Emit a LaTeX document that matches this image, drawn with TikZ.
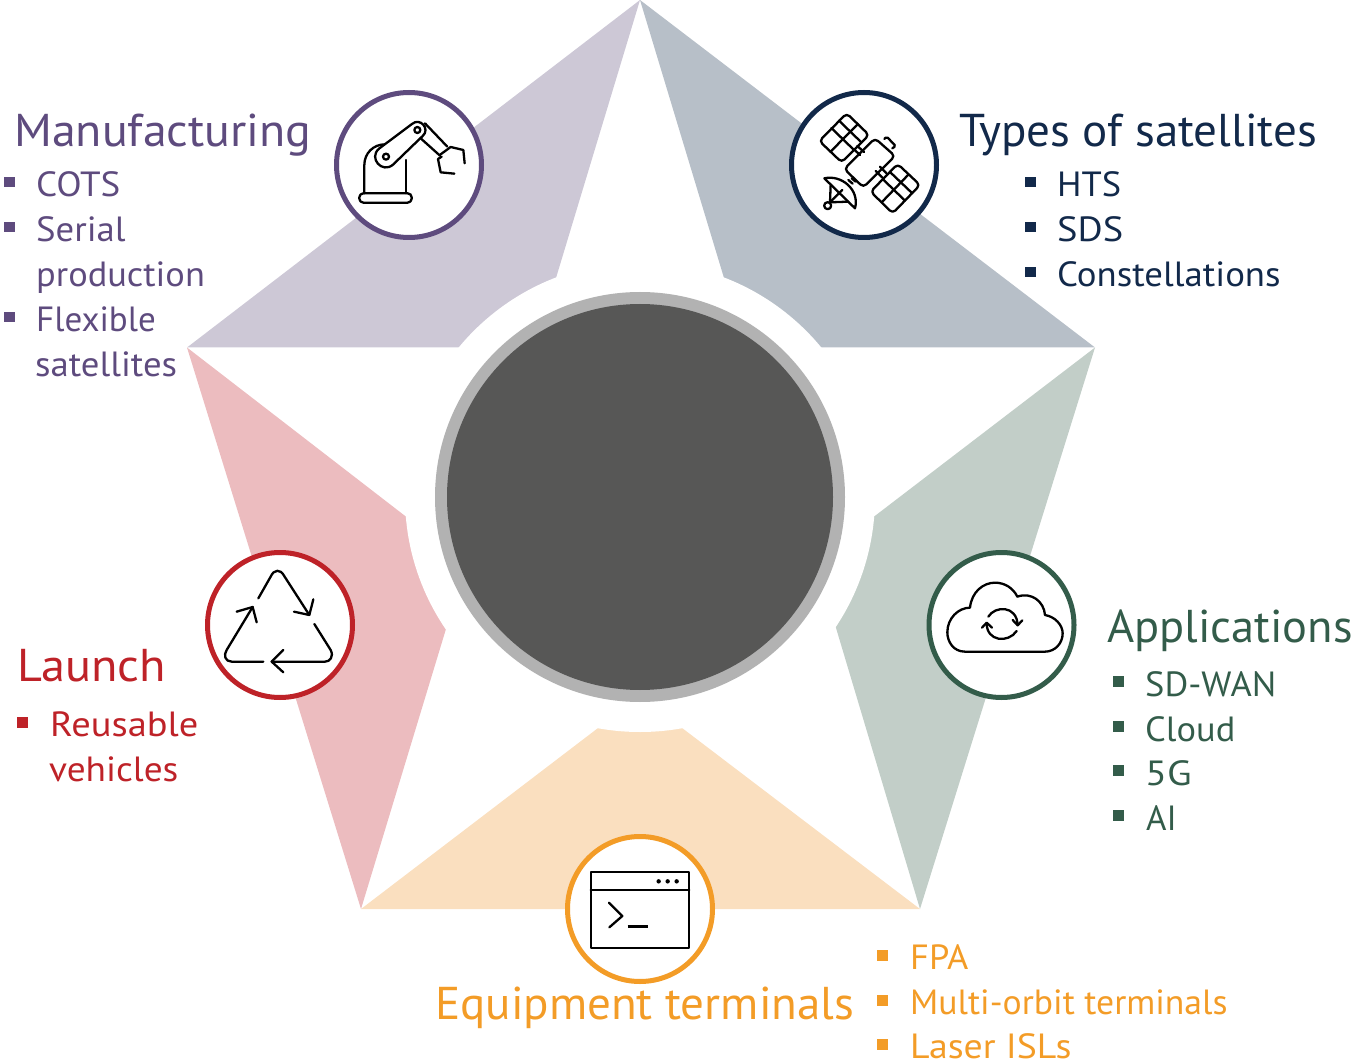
\documentclass[tikz,border=0pt]{standalone}
\usepackage{fontspec}
\setmainfont{PT Sans}
\definecolor{cpur}{HTML}{5E4B7E}\definecolor{lpur}{HTML}{CDC8D6}
\definecolor{cnav}{HTML}{12294A}\definecolor{lnav}{HTML}{B7BFC8}
\definecolor{cgrn}{HTML}{335C4A}\definecolor{lgrn}{HTML}{C2CEC8}
\definecolor{cora}{HTML}{F39C27}\definecolor{lora}{HTML}{FADFBF}
\definecolor{cred}{HTML}{BE2228}\definecolor{lred}{HTML}{ECBCBF}
\tikzset{
 ttl/.style={anchor=base west,inner sep=0pt,font=\fontsize{46}{50}\selectfont},
 itm/.style={anchor=base west,inner sep=0pt,font=\fontsize{35}{40}\selectfont},
 ring/.style={circle,draw=#1,line width=5pt,fill=white,minimum size=145pt,inner sep=0pt},
 ico/.style={line width=2.3pt,line cap=round,line join=round,black},
 zoomgrid/.style={x=0.33333pt,y=-0.33333pt},
}
\newcommand{\bul}[3]{\fill[#3] (#1,#2) rectangle ++(10.5,10.5);}
\newcommand{\sx}[2]{\scalebox{#1}[1]{#2}}
\begin{document}
\begin{tikzpicture}[x=1pt,y=-1pt]
\useasboundingbox (0,0) rectangle (1355,1064);
% star arms
\fill[lpur] (640,0) -- (187,347.5) -- (535,347.5) -- cycle;
\fill[lnav] (640,0) -- (1095,347.5) -- (745,347.5) -- cycle;
\fill[lgrn] (1095,347.5) -- (920,909) -- (816,561) -- cycle;
\fill[lora] (920,909) -- (361,909) -- (640,696) -- cycle;
\fill[lred] (361,909) -- (187,347.5) -- (466,563) -- cycle;
\node[circle,fill=white,minimum size=470pt,inner sep=0pt] (gap) at (640,497) {};
\node[circle,minimum size=410pt,inner sep=0pt,fill={rgb,255:red,178;green,178;blue,178}] (outer) at (640,497) {};
\node[circle,fill={rgb,255:red,87;green,87;blue,86},minimum size=386pt,inner sep=0pt] (core) at (640,497) {};
% rings
\node[ring=cpur] (r1) at (409,165) {};
\node[ring=cnav] (r2) at (864,165) {};
\node[ring=cgrn] (r3) at (1001.5,625) {};
\node[ring=cora] (r4) at (640,909) {};
\node[ring=cred] (r5) at (280,625) {};
% robot
\begin{scope}[shift={(330,85)},zoomgrid,ico]
\draw[rounded corners=4pt] (88,325) rectangle (245,353);
\draw (103,325) -- (103,240) .. controls (103,205) and (130,178) .. (165,178);
\draw (228,325) -- (228,225);
\draw[fill=white] (147,191) -- (246,117) .. controls (270,96) and (302,132) .. (278,153) -- (189,239) .. controls (156.5,267) and (114.5,219) .. (147,191) -- cycle;
\draw (168,215) circle[radius=3pt];
\draw (262,135) circle[radius=3pt];
\draw (285,115) -- (352,185);
\draw (272,160) -- (330,212);
\draw (332,208) -- (362,186) -- (400,195) -- (404,235);
\draw (335,215) -- (324,222) -- (332,262) -- (373,266);
\end{scope}
% satellite
\begin{scope}[shift={(785,85)},zoomgrid,ico]
\draw[rounded corners=4pt] (270,160) -- (330,213) -- (235,307) -- (178,252) -- cycle;
\draw[rounded corners=1.5pt] (298,162) -- (305,155) -- (332,183) -- (322,190);
\draw[rounded corners=4pt] (185,85) -- (252,150) -- (170,232) -- (103,168) -- cycle;
\draw (218.5,117.5) -- (136.5,200);
\draw (162,107) -- (229,172);
\draw (139,129) -- (206,194);
\draw[rounded corners=4pt] (338,237) -- (405,300) -- (323,385) -- (257,320) -- cycle;
\draw (371,268) -- (290,352);
\draw (316,262) -- (382,325);
\draw (295,284) -- (360,347);
\draw (206,192) -- (225,210); \draw (217,183) -- (237,201);
\draw (285,245) -- (305,265); \draw (272,258) -- (292,278);
\draw (118,280) .. controls (170,268) and (225,315) .. (210,370) -- cycle;
\draw (190,285) -- (203,296); \draw (200,280) -- (212,290) ;
\draw (137,300) -- (135,352) -- (190,350);
\draw (135,352) -- (172,315);
\draw[fill=white] (128,362) circle[radius=3.5pt];
\end{scope}
% cloud
\begin{scope}[shift={(920,545)},zoomgrid,ico]
\draw (135,320) .. controls (100,320) and (82,290) .. (82,262) .. controls (82,220) and (115,188) .. (150,188) .. controls (155,140) and (190,113) .. (225,113) .. controls (255,113) and (280,130) .. (292,155) .. controls (335,140) and (372,170) .. (375,210) .. controls (405,215) and (428,240) .. (428,265) .. controls (428,295) and (405,320) .. (375,320) -- cycle;
\draw (205,215) .. controls (225,182) and (290,180) .. (293,240);
\draw (278,225) -- (293,241) -- (307,226);
\draw (290,258) .. controls (265,295) and (200,290) .. (200,235);
\draw (186,248) -- (200,233) -- (216,248);
\end{scope}
% terminal
\begin{scope}[shift={(560,830)},zoomgrid,ico]
\draw[line cap=butt] (92,127) rectangle (388,355);
\draw (92,180) -- (388,180);
\foreach \dx in {296,323,350} \fill (\dx,154) circle[radius=2.2pt];
\draw (147,218) -- (187,258) -- (148,292);
\draw[line width=2.6pt,line cap=butt] (203,289) -- (263,289);
\end{scope}
% recycle
\begin{scope}[shift={(200,545)},zoomgrid,ico]
\draw (175,160) -- (212,95) .. controls (222,72) and (242,72) .. (252,92) -- (328,210);
\draw (282,200) -- (328,210) -- (340,163);
\draw (343,237) -- (392,315) .. controls (402,335) and (390,350) .. (375,350) -- (215,350);
\draw (250,315) -- (215,350) -- (250,382);
\draw (190,350) -- (95,350) .. controls (75,350) and (70,330) .. (80,315) -- (158,186);
\draw (110,200) -- (158,186) -- (170,232);
\end{scope}
% Manufacturing
\node[ttl,text=cpur] (t1) at (14,147) {\sx{1.041}{Manufacturing}};
\bul{4}{177}{cpur}\bul{4}{222}{cpur}\bul{4}{312}{cpur}
\node[itm,text=cpur] (t1a) at (36,197) {\sx{1.06}{COTS}};
\node[itm,text=cpur] (t1b) at (36,242) {\sx{1.05}{Serial}};
\node[itm,text=cpur] (t1c) at (36,287) {\sx{1.04}{production}};
\node[itm,text=cpur] (t1d) at (36,332) {Flexible};
\node[itm,text=cpur] (t1e) at (35,377) {\sx{1.05}{satellites}};
% Types
\node[ttl,text=cnav] (t2) at (959,147) {\sx{1.023}{Types of satellites}};
\bul{1025}{177}{cnav}\bul{1025}{222}{cnav}\bul{1025}{267}{cnav}
\node[itm,text=cnav] (t2a) at (1057,197) {\sx{1.04}{HTS}};
\node[itm,text=cnav] (t2b) at (1057,242) {\sx{1.1}{SDS}};
\node[itm,text=cnav] (t2c) at (1057,287) {\sx{1.052}{Constellations}};
% Applications
\node[ttl,text=cgrn] (t3) at (1107,642) {\sx{1.01}{Applications}};
\bul{1113}{676}{cgrn}\bul{1113}{721}{cgrn}\bul{1113}{765}{cgrn}\bul{1113}{810}{cgrn}
\node[itm,text=cgrn] (t3a) at (1145,696) {\sx{1.04}{SD-WAN}};
\node[itm,text=cgrn] (t3b) at (1145,741) {\sx{1.04}{Cloud}};
\node[itm,text=cgrn] (t3c) at (1145,785) {\sx{1.15}{5G}};
\node[itm,text=cgrn] (t3d) at (1146,830) {AI};
% Equipment
\node[ttl,text=cora] (t4) at (435,1019) {\sx{1.023}{Equipment terminals}};
\bul{877}{950}{cora}\bul{877}{995}{cora}\bul{877}{1039}{cora}
\node[itm,text=cora] (t4a) at (910,969) {\sx{1.04}{FPA}};
\node[itm,text=cora] (t4b) at (910,1014) {\sx{1.02}{Multi-orbit terminals}};
\node[itm,text=cora] (t4c) at (910,1058) {\sx{1.08}{Laser ISLs}};
% Launch
\node[ttl,text=cred] (t5) at (17,681) {\sx{1.05}{Launch}};
\bul{17}{717}{cred}
\node[itm,text=cred] (t5a) at (50,736) {\sx{1.10}{Reusable}};
\node[itm,text=cred] (t5b) at (49,781) {\sx{1.065}{vehicles}};
\end{tikzpicture}
\end{document}
